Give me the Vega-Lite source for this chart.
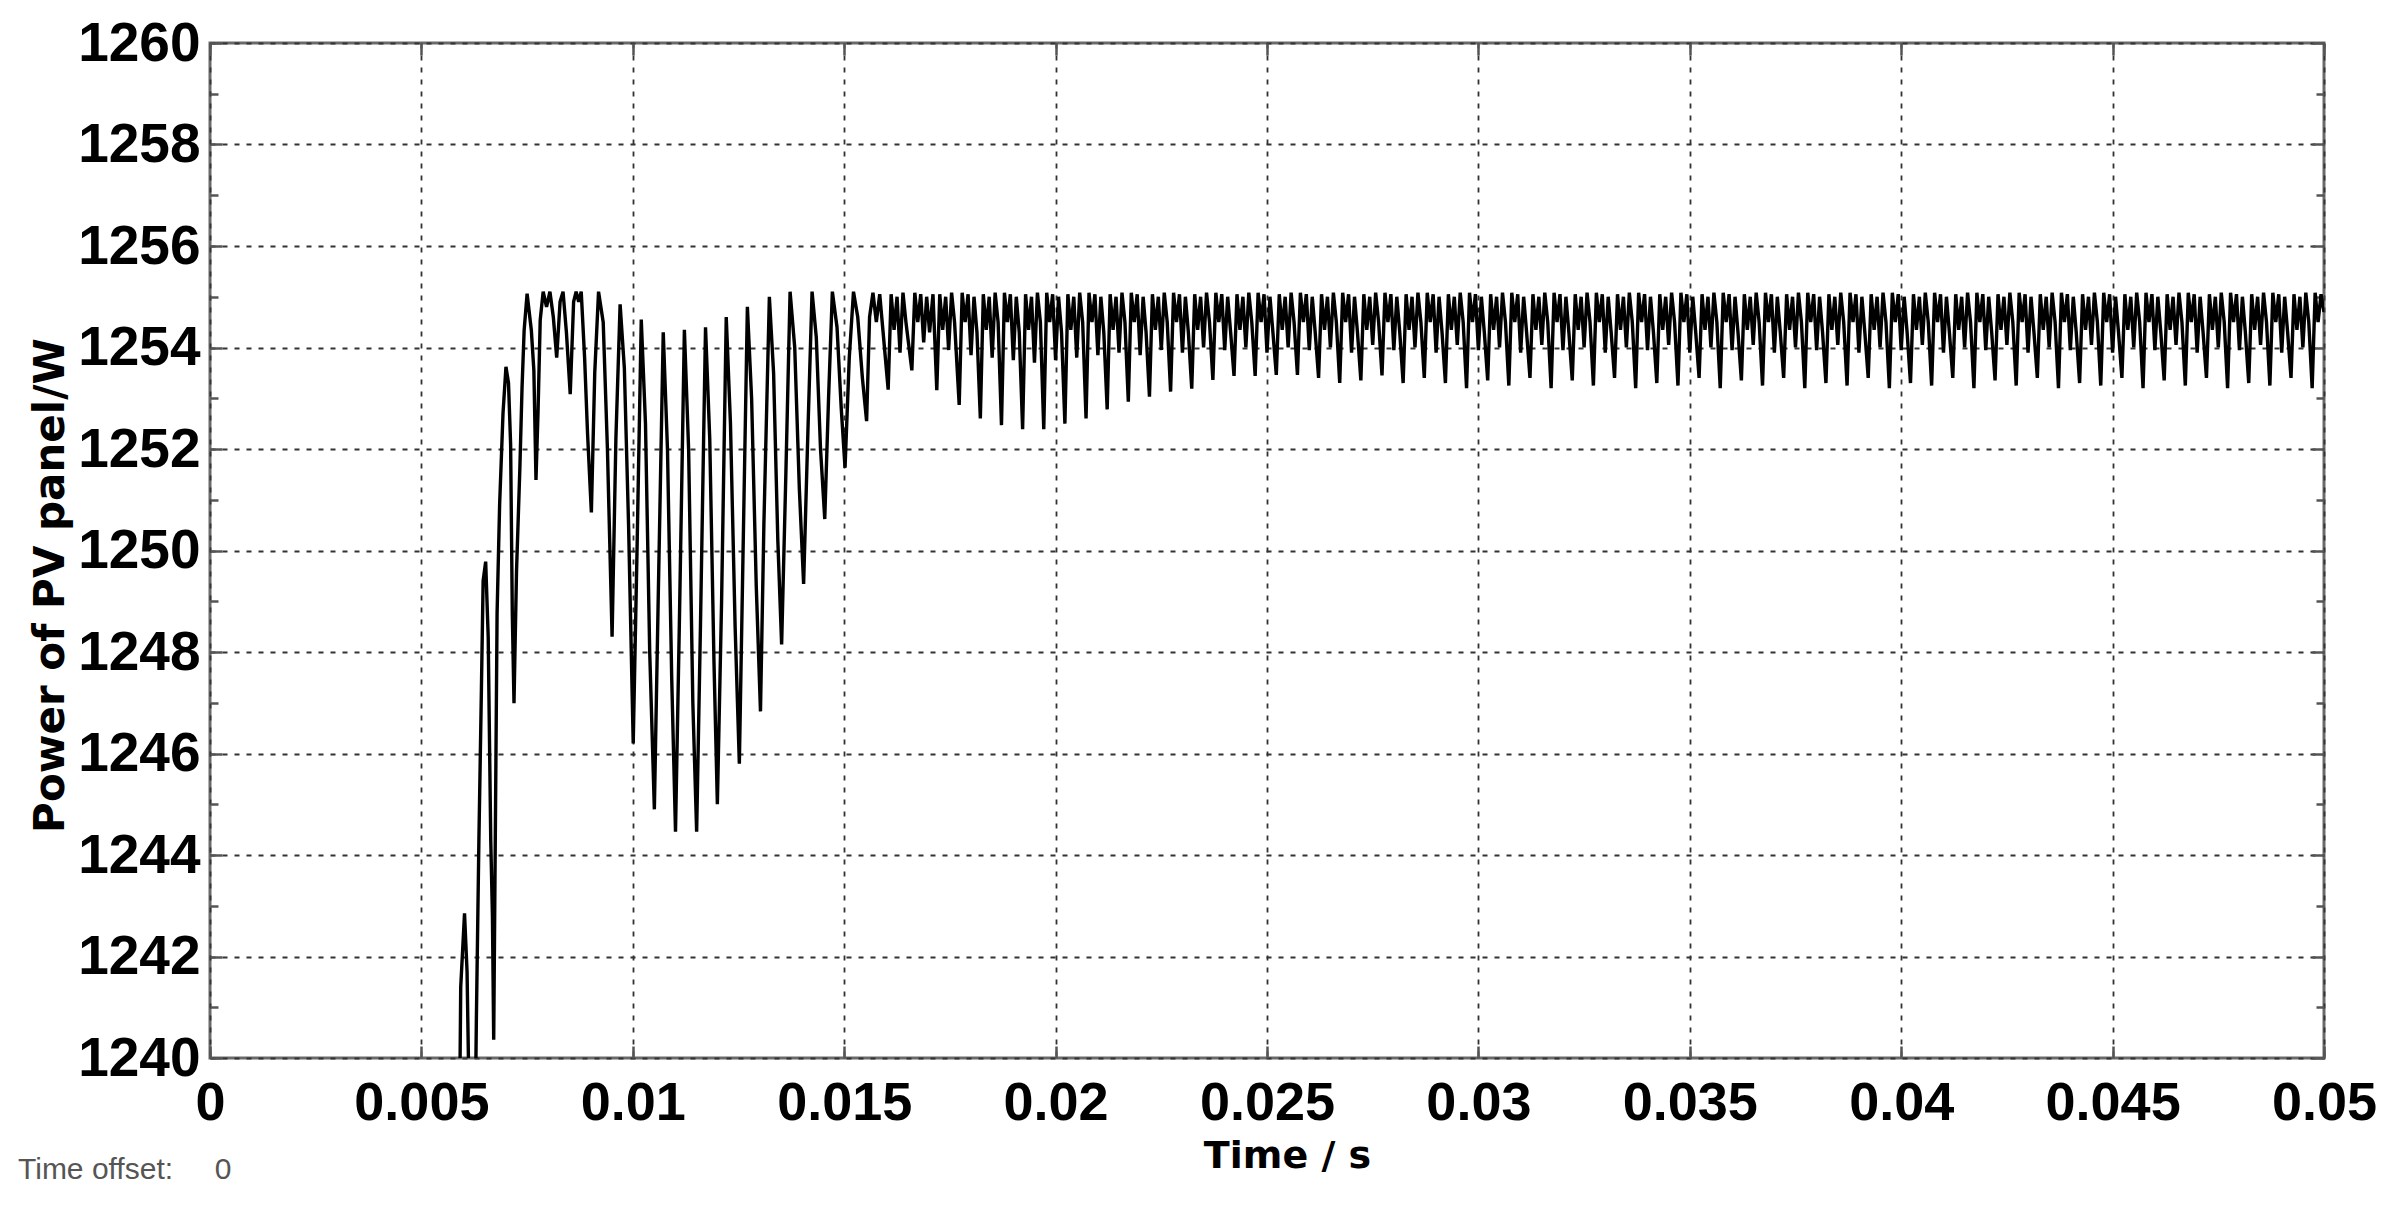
{
"$schema":"https://vega.github.io/schema/vega-lite/v6.json",
"width":2114,"height":1015,
"autosize":{"type":"none"},
"padding":{"left":210,"top":43,"right":70,"bottom":148},
"background":"white",
"config":{"view":{"stroke":"#6a6a6a","strokeWidth":3}},
"title":{"text":"Time offset:\u00a0\u00a0\u00a0\u00a0\u00a00","orient":"bottom","anchor":"start","frame":"group","dx":-192,"dy":-20,"offset":0,"fontSize":30,"font":"Liberation Sans","fontWeight":"normal","color":"#555555"},
"data":{"values":[
{"t":0.0059,"p":1238.5},{"t":0.00593,"p":1241.4},{"t":0.00602,"p":1242.85},{"t":0.00608,"p":1241.7},{"t":0.00614,"p":1238.5},{"t":0.00627,"p":1238.5},{"t":0.0063,"p":1240.75},{"t":0.00636,"p":1244.3},{"t":0.00642,"p":1247.3},{"t":0.00646,"p":1249.4},{"t":0.00652,"p":1249.78},{"t":0.00658,"p":1248.3},{"t":0.00664,"p":1244.3},{"t":0.00668,"p":1242.8},{"t":0.00671,"p":1240.36},{"t":0.00679,"p":1248.76},{"t":0.00685,"p":1250.9},{"t":0.00693,"p":1252.7},{"t":0.007,"p":1253.62},{"t":0.00706,"p":1253.3},{"t":0.00711,"p":1252.1},{"t":0.00715,"p":1248.76},{"t":0.00719,"p":1246.99},{"t":0.00725,"p":1249.6},{"t":0.00733,"p":1251.65},{"t":0.00738,"p":1253.2},{"t":0.00743,"p":1254.34},{"t":0.0075,"p":1255.06},{"t":0.0076,"p":1254.34},{"t":0.00766,"p":1253.55},{"t":0.00771,"p":1251.39},{"t":0.00776,"p":1252.77},{"t":0.00781,"p":1254.54},{"t":0.00788,"p":1255.1},{"t":0.00796,"p":1254.8},{"t":0.00804,"p":1255.1},{"t":0.00812,"p":1254.6},{"t":0.0082,"p":1253.8},{"t":0.00828,"p":1254.9},{"t":0.00835,"p":1255.1},{"t":0.00843,"p":1254.3},{"t":0.00852,"p":1253.08},{"t":0.0086,"p":1254.9},{"t":0.00866,"p":1255.1},{"t":0.00872,"p":1254.9},{"t":0.00878,"p":1255.1},{"t":0.00886,"p":1253.8},{"t":0.00893,"p":1252.3},{"t":0.00902,"p":1250.75},{"t":0.0091,"p":1253.5},{"t":0.00919,"p":1255.1},{"t":0.0093,"p":1254.5},{"t":0.0094,"p":1252.0},{"t":0.00951,"p":1248.3},{"t":0.0096,"p":1252.2},{"t":0.0097,"p":1254.85},{"t":0.0098,"p":1253.6},{"t":0.0099,"p":1250.5},{"t":0.01001,"p":1246.2},
{"t":0.0101,"p":1250.0},{"t":0.0102,"p":1254.55},{"t":0.0103,"p":1252.5},{"t":0.0104,"p":1248.0},{"t":0.01051,"p":1244.9},{"t":0.0106,"p":1249.0},{"t":0.01072,"p":1254.3},{"t":0.01082,"p":1252.0},{"t":0.01092,"p":1247.5},{"t":0.01101,"p":1244.46},{"t":0.0111,"p":1248.5},{"t":0.01122,"p":1254.35},{"t":0.01132,"p":1252.0},{"t":0.01142,"p":1247.0},{"t":0.01151,"p":1244.46},{"t":0.0116,"p":1248.5},{"t":0.01172,"p":1254.4},{"t":0.01182,"p":1252.2},{"t":0.01192,"p":1247.8},{"t":0.012,"p":1245.0},{"t":0.0121,"p":1249.0},{"t":0.01221,"p":1254.6},{"t":0.01231,"p":1252.5},{"t":0.01242,"p":1248.5},{"t":0.01252,"p":1245.8},{"t":0.0126,"p":1249.6},{"t":0.01271,"p":1254.8},{"t":0.01281,"p":1253.0},{"t":0.01292,"p":1249.3},{"t":0.01302,"p":1246.83},{"t":0.0131,"p":1250.5},{"t":0.01323,"p":1255.0},{"t":0.01333,"p":1253.5},{"t":0.01343,"p":1250.2},{"t":0.01352,"p":1248.15},{"t":0.01362,"p":1251.5},{"t":0.01372,"p":1255.1},{"t":0.01383,"p":1254.0},{"t":0.01394,"p":1251.2},{"t":0.01404,"p":1249.34},{"t":0.01414,"p":1252.3},{"t":0.01424,"p":1255.1},{"t":0.01434,"p":1254.2},{"t":0.01444,"p":1252.0},{"t":0.01454,"p":1250.62},{"t":0.01463,"p":1253.0},{"t":0.01472,"p":1255.1},{"t":0.01483,"p":1254.4},{"t":0.01493,"p":1252.8},{"t":0.01502,"p":1251.63},{"t":0.01512,"p":1253.8},{"t":0.01522,"p":1255.1},{"t":0.01532,"p":1254.6},{"t":0.01543,"p":1253.4},{"t":0.01553,"p":1252.55},{"t":0.0156,"p":1254.6},{"t":0.01568,"p":1255.08},{"t":0.01576,"p":1254.5},{"t":0.01584,"p":1255.05},{"t":0.01592,"p":1254.3},
{"t":0.01604,"p":1253.17},{"t":0.01611,"p":1255.05},{"t":0.01618,"p":1254.35},{"t":0.01625,"p":1255.0},{"t":0.01632,"p":1253.9},{"t":0.01639,"p":1255.08},{"t":0.01646,"p":1254.5},
{"t":0.0166,"p":1253.55},{"t":0.01667,"p":1255.08},{"t":0.01674,"p":1254.5},{"t":0.01681,"p":1255.05},{"t":0.01688,"p":1254.1},{"t":0.01695,"p":1255.0},{"t":0.01702,"p":1254.3},{"t":0.0171,"p":1255.05},
{"t":0.01719,"p":1253.16},{"t":0.01726,"p":1255.05},{"t":0.01733,"p":1254.35},{"t":0.0174,"p":1255.0},{"t":0.01747,"p":1253.95},{"t":0.01754,"p":1255.08},{"t":0.01761,"p":1254.5},
{"t":0.01772,"p":1252.87},{"t":0.01779,"p":1255.08},{"t":0.01786,"p":1254.5},{"t":0.01793,"p":1255.05},{"t":0.018,"p":1253.85},{"t":0.01807,"p":1255.0},{"t":0.01814,"p":1254.3},
{"t":0.01822,"p":1252.6},{"t":0.01829,"p":1255.05},{"t":0.01836,"p":1254.35},{"t":0.01843,"p":1255.0},{"t":0.0185,"p":1253.8},{"t":0.01857,"p":1255.08},{"t":0.01864,"p":1254.5},
{"t":0.01872,"p":1252.47},{"t":0.01879,"p":1255.08},{"t":0.01886,"p":1254.5},{"t":0.01893,"p":1255.05},{"t":0.019,"p":1253.75},{"t":0.01907,"p":1255.0},{"t":0.01914,"p":1254.3},
{"t":0.01922,"p":1252.39},{"t":0.01929,"p":1255.05},{"t":0.01936,"p":1254.35},{"t":0.01943,"p":1255.0},{"t":0.0195,"p":1253.7},{"t":0.01957,"p":1255.08},{"t":0.01964,"p":1254.5},
{"t":0.01972,"p":1252.39},{"t":0.01979,"p":1255.08},{"t":0.01986,"p":1254.5},{"t":0.01993,"p":1255.05},{"t":0.02,"p":1253.75},{"t":0.02007,"p":1255.0},{"t":0.02014,"p":1254.3},
{"t":0.02022,"p":1252.5},{"t":0.02029,"p":1255.05},{"t":0.02036,"p":1254.35},{"t":0.02043,"p":1255.0},{"t":0.0205,"p":1253.8},{"t":0.02057,"p":1255.08},{"t":0.02064,"p":1254.5},
{"t":0.02072,"p":1252.6},{"t":0.02079,"p":1255.08},{"t":0.02086,"p":1254.5},{"t":0.02093,"p":1255.05},{"t":0.021,"p":1253.85},{"t":0.02107,"p":1255.0},{"t":0.02114,"p":1254.3},
{"t":0.02122,"p":1252.78},{"t":0.02129,"p":1255.05},{"t":0.02136,"p":1254.35},{"t":0.02143,"p":1255.0},{"t":0.0215,"p":1253.9},{"t":0.02157,"p":1255.08},{"t":0.02164,"p":1254.5},
{"t":0.02172,"p":1252.93},{"t":0.02179,"p":1255.08},{"t":0.02186,"p":1254.5},{"t":0.02193,"p":1255.05},{"t":0.022,"p":1253.85},{"t":0.02207,"p":1255.0},{"t":0.02214,"p":1254.3},
{"t":0.02222,"p":1253.03},{"t":0.02229,"p":1255.05},{"t":0.02236,"p":1254.35},{"t":0.02243,"p":1255.0},{"t":0.0225,"p":1253.95},{"t":0.02257,"p":1255.08},{"t":0.02264,"p":1254.5},
{"t":0.02272,"p":1253.13},{"t":0.02279,"p":1255.08},{"t":0.02286,"p":1254.5},{"t":0.02293,"p":1255.05},{"t":0.023,"p":1253.9},{"t":0.02307,"p":1255.0},{"t":0.02314,"p":1254.3},
{"t":0.02322,"p":1253.19},{"t":0.02329,"p":1255.05},{"t":0.02336,"p":1254.35},{"t":0.02343,"p":1255.0},{"t":0.0235,"p":1254.0},{"t":0.02357,"p":1255.08},{"t":0.02364,"p":1254.5},
{"t":0.02372,"p":1253.36},{"t":0.02379,"p":1255.08},{"t":0.02386,"p":1254.5},{"t":0.02393,"p":1255.05},{"t":0.024,"p":1253.95},{"t":0.02407,"p":1255.0},{"t":0.02414,"p":1254.3},
{"t":0.02422,"p":1253.44},{"t":0.02429,"p":1255.05},{"t":0.02436,"p":1254.35},{"t":0.02443,"p":1255.0},{"t":0.0245,"p":1254.0},{"t":0.02457,"p":1255.08},{"t":0.02464,"p":1254.5},
{"t":0.02472,"p":1253.44},{"t":0.02479,"p":1255.08},{"t":0.02486,"p":1254.5},{"t":0.02493,"p":1255.05},{"t":0.025,"p":1253.9},{"t":0.02507,"p":1255.0},{"t":0.02514,"p":1254.3},
{"t":0.02522,"p":1253.46},{"t":0.02529,"p":1255.05},{"t":0.02536,"p":1254.35},{"t":0.02543,"p":1255.0},{"t":0.0255,"p":1254.0},{"t":0.02557,"p":1255.08},{"t":0.02564,"p":1254.5},
{"t":0.02572,"p":1253.46},{"t":0.02579,"p":1255.08},{"t":0.02586,"p":1254.5},{"t":0.02593,"p":1255.05},{"t":0.026,"p":1253.95},{"t":0.02607,"p":1255.0},{"t":0.02614,"p":1254.3},
{"t":0.02622,"p":1253.4},{"t":0.02629,"p":1255.05},{"t":0.02636,"p":1254.35},{"t":0.02643,"p":1255.0},{"t":0.0265,"p":1254.0},{"t":0.02657,"p":1255.08},{"t":0.02664,"p":1254.5},
{"t":0.02672,"p":1253.3},{"t":0.02679,"p":1255.08},{"t":0.02686,"p":1254.5},{"t":0.02693,"p":1255.05},{"t":0.027,"p":1253.9},{"t":0.02707,"p":1255.0},{"t":0.02714,"p":1254.3},
{"t":0.02722,"p":1253.35},{"t":0.02729,"p":1255.05},{"t":0.02736,"p":1254.35},{"t":0.02743,"p":1255.0},{"t":0.0275,"p":1254.05},{"t":0.02757,"p":1255.08},{"t":0.02764,"p":1254.5},
{"t":0.02772,"p":1253.45},{"t":0.02779,"p":1255.08},{"t":0.02786,"p":1254.5},{"t":0.02793,"p":1255.05},{"t":0.028,"p":1253.95},{"t":0.02807,"p":1255.0},{"t":0.02814,"p":1254.3},
{"t":0.02822,"p":1253.3},{"t":0.02829,"p":1255.05},{"t":0.02836,"p":1254.35},{"t":0.02843,"p":1255.0},{"t":0.0285,"p":1254.0},{"t":0.02857,"p":1255.08},{"t":0.02864,"p":1254.5},
{"t":0.02872,"p":1253.4},{"t":0.02879,"p":1255.08},{"t":0.02886,"p":1254.5},{"t":0.02893,"p":1255.05},{"t":0.029,"p":1253.9},{"t":0.02907,"p":1255.0},{"t":0.02914,"p":1254.3},
{"t":0.02922,"p":1253.3},{"t":0.02929,"p":1255.05},{"t":0.02936,"p":1254.35},{"t":0.02943,"p":1255.0},{"t":0.0295,"p":1254.05},{"t":0.02957,"p":1255.08},{"t":0.02964,"p":1254.5},
{"t":0.02972,"p":1253.2},{"t":0.02979,"p":1255.08},{"t":0.02986,"p":1254.5},{"t":0.02993,"p":1255.05},{"t":0.03,"p":1253.95},{"t":0.03007,"p":1255.0},{"t":0.03014,"p":1254.3},
{"t":0.03022,"p":1253.35},{"t":0.03029,"p":1255.05},{"t":0.03036,"p":1254.35},{"t":0.03043,"p":1255.0},{"t":0.0305,"p":1254.0},{"t":0.03057,"p":1255.08},{"t":0.03064,"p":1254.5},
{"t":0.03072,"p":1253.25},{"t":0.03079,"p":1255.08},{"t":0.03086,"p":1254.5},{"t":0.03093,"p":1255.05},{"t":0.031,"p":1253.9},{"t":0.03107,"p":1255.0},{"t":0.03114,"p":1254.3},
{"t":0.03122,"p":1253.4},{"t":0.03129,"p":1255.05},{"t":0.03136,"p":1254.35},{"t":0.03143,"p":1255.0},{"t":0.0315,"p":1254.05},{"t":0.03157,"p":1255.08},{"t":0.03164,"p":1254.5},
{"t":0.03172,"p":1253.2},{"t":0.03179,"p":1255.08},{"t":0.03186,"p":1254.5},{"t":0.03193,"p":1255.05},{"t":0.032,"p":1253.95},{"t":0.03207,"p":1255.0},{"t":0.03214,"p":1254.3},
{"t":0.03222,"p":1253.35},{"t":0.03229,"p":1255.05},{"t":0.03236,"p":1254.35},{"t":0.03243,"p":1255.0},{"t":0.0325,"p":1254.0},{"t":0.03257,"p":1255.08},{"t":0.03264,"p":1254.5},
{"t":0.03272,"p":1253.25},{"t":0.03279,"p":1255.08},{"t":0.03286,"p":1254.5},{"t":0.03293,"p":1255.05},{"t":0.033,"p":1253.9},{"t":0.03307,"p":1255.0},{"t":0.03314,"p":1254.3},
{"t":0.03322,"p":1253.4},{"t":0.03329,"p":1255.05},{"t":0.03336,"p":1254.35},{"t":0.03343,"p":1255.0},{"t":0.0335,"p":1254.0},{"t":0.03357,"p":1255.08},{"t":0.03364,"p":1254.5},
{"t":0.03372,"p":1253.2},{"t":0.03379,"p":1255.08},{"t":0.03386,"p":1254.5},{"t":0.03393,"p":1255.05},{"t":0.034,"p":1253.95},{"t":0.03407,"p":1255.0},{"t":0.03414,"p":1254.3},
{"t":0.03422,"p":1253.3},{"t":0.03429,"p":1255.05},{"t":0.03436,"p":1254.35},{"t":0.03443,"p":1255.0},{"t":0.0345,"p":1254.05},{"t":0.03457,"p":1255.08},{"t":0.03464,"p":1254.5},
{"t":0.03472,"p":1253.25},{"t":0.03479,"p":1255.08},{"t":0.03486,"p":1254.5},{"t":0.03493,"p":1255.05},{"t":0.035,"p":1253.9},{"t":0.03507,"p":1255.0},{"t":0.03514,"p":1254.3},
{"t":0.03522,"p":1253.4},{"t":0.03529,"p":1255.05},{"t":0.03536,"p":1254.35},{"t":0.03543,"p":1255.0},{"t":0.0355,"p":1254.0},{"t":0.03557,"p":1255.08},{"t":0.03564,"p":1254.5},
{"t":0.03572,"p":1253.2},{"t":0.03579,"p":1255.08},{"t":0.03586,"p":1254.5},{"t":0.03593,"p":1255.05},{"t":0.036,"p":1253.95},{"t":0.03607,"p":1255.0},{"t":0.03614,"p":1254.3},
{"t":0.03622,"p":1253.35},{"t":0.03629,"p":1255.05},{"t":0.03636,"p":1254.35},{"t":0.03643,"p":1255.0},{"t":0.0365,"p":1254.05},{"t":0.03657,"p":1255.08},{"t":0.03664,"p":1254.5},
{"t":0.03672,"p":1253.25},{"t":0.03679,"p":1255.08},{"t":0.03686,"p":1254.5},{"t":0.03693,"p":1255.05},{"t":0.037,"p":1253.9},{"t":0.03707,"p":1255.0},{"t":0.03714,"p":1254.3},
{"t":0.03722,"p":1253.4},{"t":0.03729,"p":1255.05},{"t":0.03736,"p":1254.35},{"t":0.03743,"p":1255.0},{"t":0.0375,"p":1254.0},{"t":0.03757,"p":1255.08},{"t":0.03764,"p":1254.5},
{"t":0.03772,"p":1253.2},{"t":0.03779,"p":1255.08},{"t":0.03786,"p":1254.5},{"t":0.03793,"p":1255.05},{"t":0.038,"p":1253.95},{"t":0.03807,"p":1255.0},{"t":0.03814,"p":1254.3},
{"t":0.03822,"p":1253.3},{"t":0.03829,"p":1255.05},{"t":0.03836,"p":1254.35},{"t":0.03843,"p":1255.0},{"t":0.0385,"p":1254.05},{"t":0.03857,"p":1255.08},{"t":0.03864,"p":1254.5},
{"t":0.03872,"p":1253.25},{"t":0.03879,"p":1255.08},{"t":0.03886,"p":1254.5},{"t":0.03893,"p":1255.05},{"t":0.039,"p":1253.9},{"t":0.03907,"p":1255.0},{"t":0.03914,"p":1254.3},
{"t":0.03922,"p":1253.4},{"t":0.03929,"p":1255.05},{"t":0.03936,"p":1254.35},{"t":0.03943,"p":1255.0},{"t":0.0395,"p":1254.0},{"t":0.03957,"p":1255.08},{"t":0.03964,"p":1254.5},
{"t":0.03972,"p":1253.2},{"t":0.03979,"p":1255.08},{"t":0.03986,"p":1254.5},{"t":0.03993,"p":1255.05},{"t":0.04,"p":1253.95},{"t":0.04007,"p":1255.0},{"t":0.04014,"p":1254.3},
{"t":0.04022,"p":1253.3},{"t":0.04029,"p":1255.05},{"t":0.04036,"p":1254.35},{"t":0.04043,"p":1255.0},{"t":0.0405,"p":1254.05},{"t":0.04057,"p":1255.08},{"t":0.04064,"p":1254.5},
{"t":0.04072,"p":1253.25},{"t":0.04079,"p":1255.08},{"t":0.04086,"p":1254.5},{"t":0.04093,"p":1255.05},{"t":0.041,"p":1253.9},{"t":0.04107,"p":1255.0},{"t":0.04114,"p":1254.3},
{"t":0.04122,"p":1253.4},{"t":0.04129,"p":1255.05},{"t":0.04136,"p":1254.35},{"t":0.04143,"p":1255.0},{"t":0.0415,"p":1254.0},{"t":0.04157,"p":1255.08},{"t":0.04164,"p":1254.5},
{"t":0.04172,"p":1253.2},{"t":0.04179,"p":1255.08},{"t":0.04186,"p":1254.5},{"t":0.04193,"p":1255.05},{"t":0.042,"p":1253.95},{"t":0.04207,"p":1255.0},{"t":0.04214,"p":1254.3},
{"t":0.04222,"p":1253.35},{"t":0.04229,"p":1255.05},{"t":0.04236,"p":1254.35},{"t":0.04243,"p":1255.0},{"t":0.0425,"p":1254.05},{"t":0.04257,"p":1255.08},{"t":0.04264,"p":1254.5},
{"t":0.04272,"p":1253.25},{"t":0.04279,"p":1255.08},{"t":0.04286,"p":1254.5},{"t":0.04293,"p":1255.05},{"t":0.043,"p":1253.9},{"t":0.04307,"p":1255.0},{"t":0.04314,"p":1254.3},
{"t":0.04322,"p":1253.4},{"t":0.04329,"p":1255.05},{"t":0.04336,"p":1254.35},{"t":0.04343,"p":1255.0},{"t":0.0435,"p":1254.0},{"t":0.04357,"p":1255.08},{"t":0.04364,"p":1254.5},
{"t":0.04372,"p":1253.2},{"t":0.04379,"p":1255.08},{"t":0.04386,"p":1254.5},{"t":0.04393,"p":1255.05},{"t":0.044,"p":1253.95},{"t":0.04407,"p":1255.0},{"t":0.04414,"p":1254.3},
{"t":0.04422,"p":1253.3},{"t":0.04429,"p":1255.05},{"t":0.04436,"p":1254.35},{"t":0.04443,"p":1255.0},{"t":0.0445,"p":1254.05},{"t":0.04457,"p":1255.08},{"t":0.04464,"p":1254.5},
{"t":0.04472,"p":1253.25},{"t":0.04479,"p":1255.08},{"t":0.04486,"p":1254.5},{"t":0.04493,"p":1255.05},{"t":0.045,"p":1253.9},{"t":0.04507,"p":1255.0},{"t":0.04514,"p":1254.3},
{"t":0.04522,"p":1253.4},{"t":0.04529,"p":1255.05},{"t":0.04536,"p":1254.35},{"t":0.04543,"p":1255.0},{"t":0.0455,"p":1254.0},{"t":0.04557,"p":1255.08},{"t":0.04564,"p":1254.5},
{"t":0.04572,"p":1253.2},{"t":0.04579,"p":1255.08},{"t":0.04586,"p":1254.5},{"t":0.04593,"p":1255.05},{"t":0.046,"p":1253.95},{"t":0.04607,"p":1255.0},{"t":0.04614,"p":1254.3},
{"t":0.04622,"p":1253.35},{"t":0.04629,"p":1255.05},{"t":0.04636,"p":1254.35},{"t":0.04643,"p":1255.0},{"t":0.0465,"p":1254.05},{"t":0.04657,"p":1255.08},{"t":0.04664,"p":1254.5},
{"t":0.04672,"p":1253.25},{"t":0.04679,"p":1255.08},{"t":0.04686,"p":1254.5},{"t":0.04693,"p":1255.05},{"t":0.047,"p":1253.9},{"t":0.04707,"p":1255.0},{"t":0.04714,"p":1254.3},
{"t":0.04722,"p":1253.4},{"t":0.04729,"p":1255.05},{"t":0.04736,"p":1254.35},{"t":0.04743,"p":1255.0},{"t":0.0475,"p":1254.0},{"t":0.04757,"p":1255.08},{"t":0.04764,"p":1254.5},
{"t":0.04772,"p":1253.2},{"t":0.04779,"p":1255.08},{"t":0.04786,"p":1254.5},{"t":0.04793,"p":1255.05},{"t":0.048,"p":1253.95},{"t":0.04807,"p":1255.0},{"t":0.04814,"p":1254.3},
{"t":0.04822,"p":1253.3},{"t":0.04829,"p":1255.05},{"t":0.04836,"p":1254.35},{"t":0.04843,"p":1255.0},{"t":0.0485,"p":1254.05},{"t":0.04857,"p":1255.08},{"t":0.04864,"p":1254.5},
{"t":0.04872,"p":1253.25},{"t":0.04879,"p":1255.08},{"t":0.04886,"p":1254.5},{"t":0.04893,"p":1255.05},{"t":0.049,"p":1253.9},{"t":0.04907,"p":1255.0},{"t":0.04914,"p":1254.3},
{"t":0.04922,"p":1253.4},{"t":0.04929,"p":1255.05},{"t":0.04936,"p":1254.35},{"t":0.04943,"p":1255.0},{"t":0.0495,"p":1254.0},{"t":0.04957,"p":1255.08},{"t":0.04964,"p":1254.5},
{"t":0.04972,"p":1253.2},{"t":0.04979,"p":1255.08},{"t":0.04986,"p":1254.5},{"t":0.04993,"p":1255.05},{"t":0.05,"p":1254.7}
]},
"layer":[
{"mark":{"type":"line","color":"black","strokeWidth":3.4,"clip":true},
 "encoding":{
  "x":{"field":"t","type":"quantitative","scale":{"domain":[0,0.05],"nice":false,"zero":false},
   "axis":{"orient":"bottom","values":[0,0.005,0.01,0.015,0.02,0.025,0.03,0.035,0.04,0.045,0.05],"format":"~g","grid":true,"gridDash":[5,7],"gridColor":"#333333","gridWidth":1.8,"gridOpacity":1,"domain":false,"ticks":true,"tickSize":-12,"tickWidth":2.5,"tickColor":"#555555","labelFont":"Liberation Sans","labelFontWeight":"bold","labelFontSize":54,"labelColor":"black","labelPadding":30,"labelFlush":false,"labelOverlap":false,"labelBound":false,"title":"Time / s","titleFont":"DejaVu Sans","titleFontWeight":"bold","titleFontSize":38,"titleColor":"black","titleX":1077,"titleY":109,"titleBaseline":"alphabetic","titleAlign":"center","titleAngle":0}},
  "y":{"field":"p","type":"quantitative","scale":{"domain":[1240,1260],"nice":false,"zero":false},
   "axis":{"orient":"left","values":[1240,1242,1244,1246,1248,1250,1252,1254,1256,1258,1260],"format":"d","grid":true,"gridDash":[5,7],"gridColor":"#333333","gridWidth":1.8,"gridOpacity":1,"domain":false,"ticks":true,"tickSize":-12,"tickWidth":2.5,"tickColor":"#555555","labelFont":"Liberation Sans","labelFontWeight":"bold","labelFontSize":55,"labelColor":"black","labelPadding":22,"labelOverlap":false,"labelBound":false,"labelFlush":false,"title":"Power of PV panel/W","titleFont":"DejaVu Sans","titleFontWeight":"bold","titleFontSize":42,"titleColor":"black","titleX":-147,"titleY":542,"titleAngle":270,"titleBaseline":"alphabetic","titleAlign":"center"}}
 }},
{"mark":{"type":"line","opacity":0,"clip":true},
 "encoding":{
  "x":{"field":"t","type":"quantitative","axis":{"orient":"top","values":[0,0.005,0.01,0.015,0.02,0.025,0.03,0.035,0.04,0.045,0.05],"grid":false,"labels":false,"domain":false,"tickSize":-12,"tickWidth":2.5,"tickColor":"#555555","title":null}},
  "y":{"field":"p","type":"quantitative","axis":{"orient":"right","values":[1240,1242,1244,1246,1248,1250,1252,1254,1256,1258,1260],"grid":false,"labels":false,"domain":false,"tickSize":-12,"tickWidth":2.5,"tickColor":"#555555","title":null}}
 }},
{"mark":{"type":"line","opacity":0,"clip":true},
 "encoding":{
  "x":{"field":"t","type":"quantitative","axis":null},
  "y":{"field":"p","type":"quantitative","axis":{"orient":"left","values":[1241,1243,1245,1247,1249,1251,1253,1255,1257,1259],"grid":false,"labels":false,"domain":false,"tickSize":-8,"tickWidth":2.5,"tickColor":"#555555","title":null}}
 }},
{"mark":{"type":"line","opacity":0,"clip":true},
 "encoding":{
  "x":{"field":"t","type":"quantitative","axis":null},
  "y":{"field":"p","type":"quantitative","axis":{"orient":"right","values":[1241,1243,1245,1247,1249,1251,1253,1255,1257,1259],"grid":false,"labels":false,"domain":false,"tickSize":-8,"tickWidth":2.5,"tickColor":"#555555","title":null}}
 }}
],
"resolve":{"axis":{"x":"independent","y":"independent"}}
}
